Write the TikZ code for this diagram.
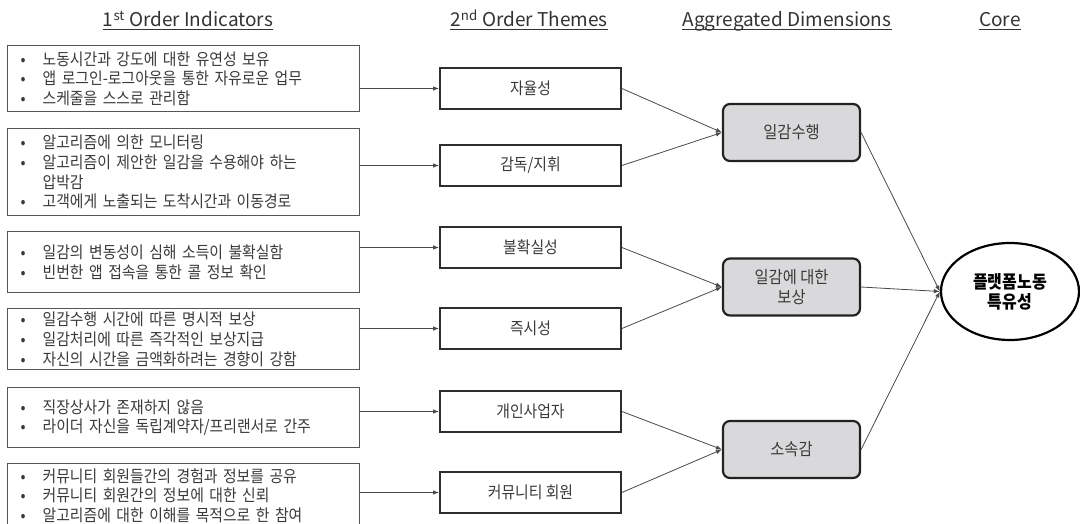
\documentclass[tikz,border=0pt]{standalone}
\usepackage{fontspec}
\setmainfont{Noto Sans CJK KR}
\newfontfamily\kor[FakeStretch=0.9]{Noto Sans CJK KR}
\usetikzlibrary{arrows.meta,shapes.geometric}
\definecolor{txt}{HTML}{3A3A3A}
\definecolor{ttxt}{HTML}{333333}
\definecolor{lbord}{HTML}{555555}
\definecolor{tbord}{HTML}{2E2E2E}
\definecolor{abord}{HTML}{222222}
\definecolor{afill}{HTML}{D9D9DB}
\definecolor{edgec}{HTML}{4A4A4A}
\newcommand\mybul{\makebox[22pt][l]{•}}
\begin{document}
\begin{tikzpicture}[x=1pt,y=-1pt,
  lbox/.style={draw=lbord, line width=1.3pt, rectangle, anchor=north west,
    minimum width=352pt, text width=326pt, inner xsep=13pt, inner ysep=0pt,
    align=left, font=\kor\fontsize{16.5}{19.7}\selectfont, text=txt},
  tbox/.style={draw=tbord, line width=1.8pt, rectangle, minimum width=181pt,
    minimum height=41pt, inner sep=0pt, font=\kor\fontsize{16.5}{19}\selectfont, text=txt},
  abox/.style={draw=abord, fill=afill, line width=2.2pt, rounded corners=7pt,
    minimum width=137pt, minimum height=57pt, inner sep=0pt, align=center,
    font=\kor\fontsize{17}{19.5}\selectfont, text=txt},
  corebox/.style={draw=black, line width=2.2pt, ellipse, minimum width=138pt,
    minimum height=97pt, inner sep=0pt, align=center,
    font=\kor\fontsize{17.8}{20}\selectfont\bfseries, text=black},
  title/.style={anchor=base, inner sep=0pt, font=\fontsize{19}{22}\selectfont, text=ttxt},
  uline/.style={draw=ttxt, line width=0.9pt},
  arr/.style={draw=edgec, line width=0.8pt, -{Latex[length=6pt,width=4.5pt]}}]

\path[use as bounding box, fill=white] (0,0) rectangle (1080,524);

% titles
\node[title] (H1) at (188,27) {1\textsuperscript{st} Order Indicators};
\node[title] (H2) at (529,27) {2\textsuperscript{nd} Order Themes};
\node[title] (H3) at (787,27) {Aggregated Dimensions};
\node[title] (H4) at (1000,27) {Core};
\foreach \h in {H1,H2,H3,H4}
  \draw[uline] ([yshift=-2.5pt]\h.base west) -- ([yshift=-2.5pt]\h.base east);

% first order indicators
\node[lbox, minimum height=66pt] (L1) at (7,45)
  {\mybul 노동시간과 강도에 대한 유연성 보유\\\mybul 앱 로그인-로그아웃을 통한 자유로운 업무\\\mybul 스케줄을 스스로 관리함};
\node[lbox, minimum height=87pt] (L2) at (7,128)
  {\mybul 알고리즘에 의한 모니터링\\\mybul 알고리즘이 제안한 일감을 수용해야 하는\\\makebox[22pt]{}압박감\\\mybul 고객에게 노출되는 도착시간과 이동경로};
\node[lbox, minimum height=61pt] (L3) at (7,231)
  {\mybul 일감의 변동성이 심해 소득이 불확실함\\\mybul 빈번한 앱 접속을 통한 콜 정보 확인};
\node[lbox, minimum height=61pt] (L4) at (7,308)
  {\mybul 일감수행 시간에 따른 명시적 보상\\\mybul 일감처리에 따른 즉각적인 보상지급\\\mybul 자신의 시간을 금액화하려는 경향이 강함};
\node[lbox, minimum height=60pt] (L5) at (7,387)
  {\mybul 직장상사가 존재하지 않음\\\mybul 라이더 자신을 독립계약자/프리랜서로 간주};
\node[lbox, minimum height=64pt] (L6) at (7,463)
  {\mybul 커뮤니티 회원들간의 경험과 정보를 공유\\\mybul 커뮤니티 회원간의 정보에 대한 신뢰\\\mybul 알고리즘에 대한 이해를 목적으로 한 참여};

% second order themes
\node[tbox] (T1) at (530.5,88.5) {자율성};
\node[tbox] (T2) at (530.5,165.5) {감독/지휘};
\node[tbox] (T3) at (530.5,247.5) {불확실성};
\node[tbox] (T4) at (530.5,328.5) {즉시성};
\node[tbox] (T5) at (530.5,411.5) {개인사업자};
\node[tbox] (T6) at (530.5,492.5) {커뮤니티 회원};

% aggregated dimensions
\node[abox] (A1) at (791.5,132.5) {일감수행};
\node[abox] (A2) at (791.5,287) {일감에 대한\\보상};
\node[abox] (A3) at (791.5,449.5) {소속감};

% core
\node[corebox] (C) at (1010,291.5) {플랫폼노동\\특유성};

% connectors
\foreach \i in {1,...,6}
  \draw[arr] (L\i.east |- T\i.west) -- (T\i.west);
\draw[arr] (T1.east) -- (A1.west);
\draw[arr] (T2.east) -- (A1.west);
\draw[arr] (T3.east) -- (A2.west);
\draw[arr] (T4.east) -- (A2.west);
\draw[arr] (T5.east) -- (A3.west);
\draw[arr] (T6.east) -- (A3.west);
\draw[arr] (A1.east) -- (C.west);
\draw[arr] (A2.east) -- (C.west);
\draw[arr] (A3.east) -- (C.west);
\end{tikzpicture}
\end{document}
